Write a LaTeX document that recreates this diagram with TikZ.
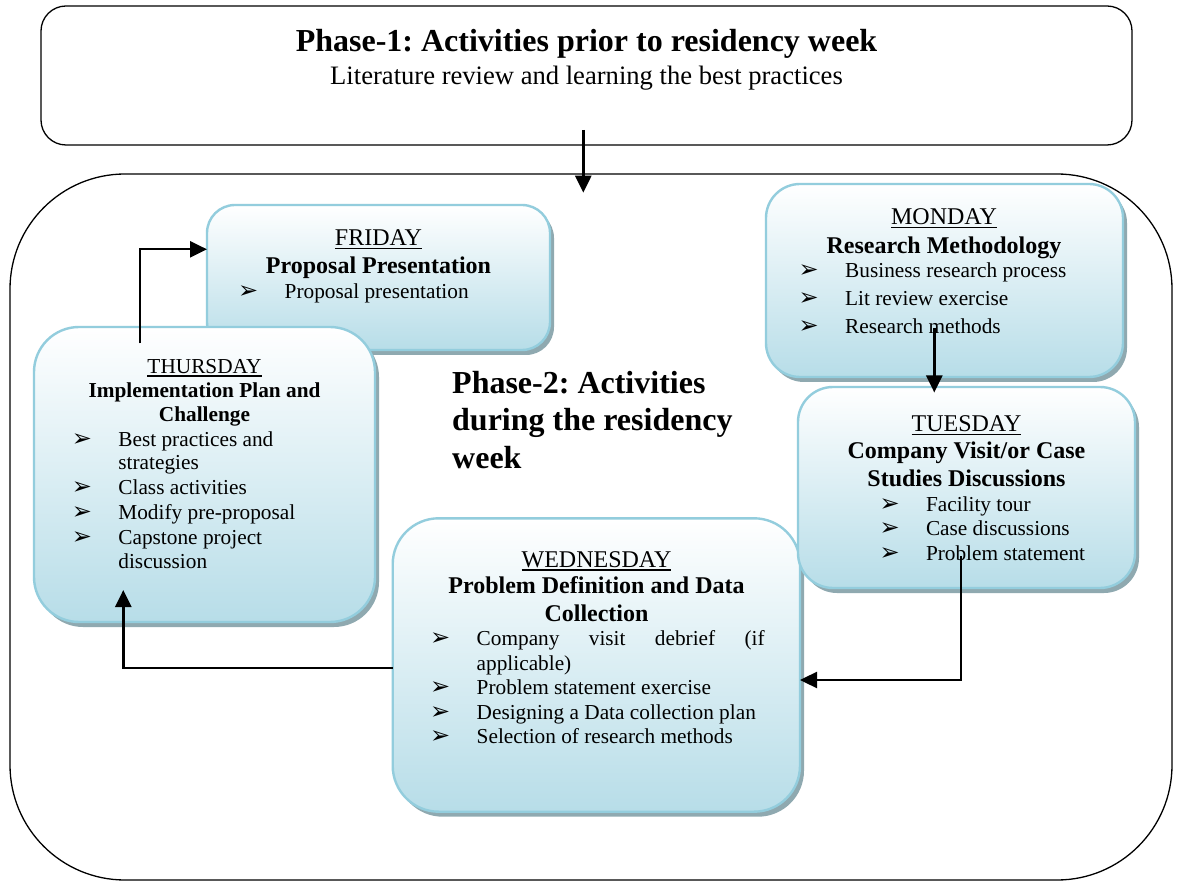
\documentclass[tikz,border=0pt]{standalone}
\usepackage{fontspec}
\setmainfont{Liberation Serif}
\newfontfamily\dejavu{DejaVu Sans}
\usetikzlibrary{arrows.meta,shadows}
\frenchspacing
\definecolor{boxborder}{HTML}{93CDDD}
\definecolor{boxbottom}{HTML}{B7DDE8}
\definecolor{boxshadow}{HTML}{8FA9B0}
\newcommand\bulglyph{{\dejavu\fontsize{24}{24}\selectfont ➢}}
\newcommand\bl[1]{\makebox[46.5pt][l]{\bulglyph}#1}
\newcommand\dayul[1]{\setbox0\hbox{#1}\rlap{\rule[-3.5pt]{\wd0}{1.4pt}}\box0}
\tikzset{
 daybox/.style={draw=boxborder, line width=2.4pt, top color=white, bottom color=boxbottom,
   anchor=north west, inner sep=0pt, outer sep=0pt,
   drop shadow={shadow xshift=4pt,shadow yshift=-5pt,fill=boxshadow,opacity=1}},
 frame/.style={draw=black, line width=1.3pt, fill=white, anchor=north west, inner sep=0pt, outer sep=0pt},
 dayname/.style={inner sep=0pt, anchor=base, font=\fontsize{24}{28}\selectfont},
 heading/.style={inner sep=0pt, anchor=base, font=\bfseries\fontsize{24}{28}\selectfont},
 itemline/.style={inner sep=0pt, anchor=base west, font=\fontsize{21.3}{28}\selectfont},
 bigtitle/.style={inner sep=0pt, font=\bfseries\fontsize{32}{37}\selectfont},
 subtitle/.style={inner sep=0pt, anchor=base, font=\fontsize{26.6}{30}\selectfont},
 arr/.style={line width=2.4pt, -{Triangle[length=17pt,width=16pt]}},
}
\begin{document}
\begin{tikzpicture}[x=1pt,y=-1pt]
\useasboundingbox (0,0) rectangle (1184,882);
% outer frames
\node[frame, rounded corners=25pt, minimum width=1091pt, minimum height=139pt] (p1) at (41,6) {};
\node[bigtitle, anchor=base] (p1t) at (586.5,52) {Phase-1: Activities prior to residency week};
\node[subtitle] (p1s) at (586.5,85) {Literature review and learning the best practices};
\node[frame, rounded corners=115pt, minimum width=1162pt, minimum height=706pt] (cont) at (10,174) {};

% FRIDAY
\node[daybox, rounded corners=28pt, minimum width=343pt, minimum height=145pt] (fri) at (207,205) {};
\node[dayname] (fri1) at (378.5,245.7) {\dayul{FRIDAY}};
\node[heading] (fri2) at (378.5,273.3) {Proposal Presentation};
\node[itemline] (fri3) at (238,298.3) {\bl{Proposal presentation}};

% Phase-2 label
\node[fill=white, inner sep=0pt, minimum width=300pt, minimum height=140pt, anchor=north west] (ph2bg) at (433,355) {};
\node[bigtitle, anchor=base west] (ph2a) at (452,394) {Phase-2: Activities};
\node[bigtitle, anchor=base west] (ph2b) at (452,431) {during the residency};
\node[bigtitle, anchor=base west] (ph2c) at (452,468) {week};

% THURSDAY
\node[daybox, rounded corners=45pt, minimum width=341pt, minimum height=295pt] (thu) at (34,327) {};
\node[dayname, font=\fontsize{21.3}{28}\selectfont] (thu1) at (204.5,373.3) {\dayul{THURSDAY}};
\node[heading, font=\bfseries\fontsize{21.3}{28}\selectfont] (thu2) at (204.5,397.3) {Implementation Plan and};
\node[heading, font=\bfseries\fontsize{21.3}{28}\selectfont] (thu3) at (204.5,421.7) {Challenge};
\node[itemline] (thu4) at (71.7,446.7) {\bl{Best practices and}};
\node[itemline] (thu5) at (118.2,470) {strategies};
\node[itemline] (thu6) at (71.7,495) {\bl{Class activities}};
\node[itemline] (thu7) at (71.7,519.3) {\bl{Modify pre-proposal}};
\node[itemline] (thu8) at (71.7,544) {\bl{Capstone project}};
\node[itemline] (thu9) at (118.2,568.3) {discussion};

% MONDAY
\node[daybox, rounded corners=34pt, minimum width=357pt, minimum height=193pt] (mon) at (766,184) {};
\node[dayname] (mon1) at (944,225) {\dayul{MONDAY}};
\node[heading] (mon2) at (944,254) {Research Methodology};
\node[itemline] (mon3) at (798.5,278) {\bl{Business research process}};
\node[itemline] (mon4) at (798.5,306) {\bl{Lit review exercise}};
\node[itemline] (mon5) at (798.5,334) {\bl{Research methods}};

% WEDNESDAY
\node[daybox, rounded corners=46pt, minimum width=407.3pt, minimum height=293.4pt] (wed) at (392.7,518.3) {};
\node[dayname] (wed1) at (596.5,567.3) {\dayul{WEDNESDAY}};
\node[heading] (wed2) at (596.5,593.3) {Problem Definition and Data};
\node[heading] (wed3) at (596.5,621) {Collection};
\node[itemline] (wed4) at (430,645.7) {\bl{\makebox[288pt][s]{Company visit debrief (if}}};
\node[itemline] (wed5) at (476.5,670) {applicable)};
\node[itemline] (wed6) at (430,694.3) {\bl{Problem statement exercise}};
\node[itemline] (wed7) at (430,719.3) {\bl{Designing a Data collection plan}};
\node[itemline] (wed8) at (430,743.3) {\bl{Selection of research methods}};

% TUESDAY
\node[daybox, rounded corners=35pt, minimum width=337pt, minimum height=201pt] (tue) at (798,387) {};
\node[dayname] (tue1) at (966.5,431.7) {\dayul{TUESDAY}};
\node[heading] (tue2) at (966.5,459) {Company Visit/or Case};
\node[heading] (tue3) at (966.5,486.7) {Studies Discussions};
\node[itemline] (tue4) at (879.3,511.7) {\bl{Facility tour}};
\node[itemline] (tue5) at (879.3,535.7) {\bl{Case discussions}};
\node[itemline] (tue6) at (879.3,560) {\bl{Problem statement}};

% connectors
\coordinate (p1Out) at (583.3,130);
\coordinate (monOut) at (934.3,328);
\coordinate (tueOut) at (961,556);
\coordinate (thuOut) at (140,343.3);
\draw[arr, shorten >=-18.7pt] (p1Out) -- (p1Out |- cont.north);
\draw[arr, shorten >=-5.5pt] (monOut) -- (monOut |- tue.north);
\draw[arr] (tueOut) |- (wed.east |- 0,680);
\draw[arr, shorten >=-32pt] (wed.west |- 0,667.7) -| (thu.south -| 123.3,0);
\draw[arr] (thuOut) |- (fri.west |- 0,249.3);
\end{tikzpicture}
\end{document}
